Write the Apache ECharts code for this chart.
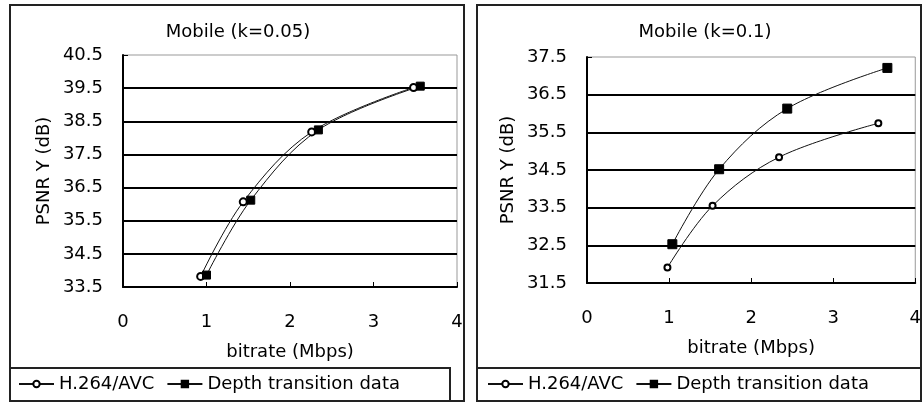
<!DOCTYPE html>
<html>
<head>
<meta charset="utf-8">
<script src="https://cdn.jsdelivr.net/npm/echarts@6/dist/echarts.min.js"></script>
<style>
  html, body { margin: 0; padding: 0; background: #fff; }
  #chart { width: 924px; height: 402px; }
</style>
</head>
<body>
<div id="chart"></div>
<script>
// PSNR vs bitrate for the Mobile sequence at two k settings
const seriesNames = ['H.264/AVC', 'Depth transition data'];
const panelTitles = ['Mobile (k=0.05)', 'Mobile (k=0.1)'];
const xAxisTitle = 'bitrate (Mbps)';
const yAxisTitle = 'PSNR Y (dB)';

// bitrate (Mbps), PSNR Y (dB)
const h264K005  = [[0.93, 33.82], [1.44, 36.07], [2.26, 38.18], [3.48, 39.52]];
const depthK005 = [[1.00, 33.86], [1.53, 36.12], [2.34, 38.24], [3.56, 39.56]];
const h264K01   = [[0.98, 31.91], [1.53, 33.55], [2.34, 34.84], [3.55, 35.74]];
const depthK01  = [[1.04, 32.53], [1.61, 34.52], [2.44, 36.13], [3.66, 37.21]];

// axis ranges: [min, max, step]
const xRange = [0, 4, 1];
const yRangeK005 = [33.5, 40.5, 1];
const yRangeK01 = [31.5, 37.5, 1];

const FONT = 'DejaVu Sans';
const INK = '#000';
const FS = 18;

function xAxisFor(gridIndex) {
  return {
    type: 'value', gridIndex,
    min: xRange[0], max: xRange[1], interval: xRange[2],
    name: xAxisTitle, nameLocation: 'middle', nameGap: 56,
    nameTextStyle: { fontFamily: FONT, fontSize: FS, color: INK },
    axisLine: { show: true, lineStyle: { color: INK, width: 2 } },
    axisTick: { show: true, inside: true, length: 5, lineStyle: { color: INK, width: 1 } },
    axisLabel: { margin: 26, fontFamily: FONT, fontSize: FS, color: INK },
    splitLine: { show: false }
  };
}

function yAxisFor(gridIndex, range) {
  return {
    type: 'value', gridIndex,
    min: range[0], max: range[1], interval: range[2],
    name: yAxisTitle, nameLocation: 'middle', nameGap: 70,
    nameTextStyle: { fontFamily: FONT, fontSize: FS, color: INK },
    axisLine: { show: true, lineStyle: { color: INK, width: 2 } },
    axisTick: { show: true, inside: true, length: 5, lineStyle: { color: INK, width: 1 } },
    axisLabel: { margin: 20, fontFamily: FONT, fontSize: FS, color: INK,
                 formatter: v => v.toFixed(1) },
    splitLine: { show: true, showMinLine: false, showMaxLine: false,
                 lineStyle: { color: INK, width: 2 } }
  };
}

function lineSeries(name, data, idx, symbol, size) {
  return {
    name, type: 'line', data,
    xAxisIndex: idx, yAxisIndex: idx,
    smooth: 0.35,
    symbol, symbolSize: size,
    showAllSymbol: true,
    lineStyle: { color: '#111', width: 1 },
    itemStyle: { color: INK, borderColor: INK, borderWidth: 1 },
    emphasis: { disabled: true },
    animation: false
  };
}

function legendAt(left) {
  return {
    data: seriesNames,
    left, top: 375,
    itemWidth: 35, itemHeight: 8, itemGap: 12,
    textStyle: { fontFamily: FONT, fontSize: FS, color: INK, padding: [0, 0, 0, 0] },
    padding: 0,
    inactiveColor: '#aaa'
  };
}

function frame(x1, y1, x2, y2) {
  return {
    type: 'rect', silent: true, z: 0,
    shape: { x: x1, y: y1, width: x2 - x1, height: y2 - y1 },
    style: { fill: 'none', stroke: '#222', lineWidth: 2 }
  };
}

function titleText(text, cx) {
  return {
    type: 'text', silent: true, x: cx, y: 32,
    style: { text, fontFamily: FONT, fontSize: FS, fill: INK,
             align: 'center', verticalAlign: 'middle' }
  };
}

const chart = echarts.init(document.getElementById('chart'), null, { renderer: 'canvas' });
chart.setOption({
  animation: false,
  backgroundColor: '#fff',
  grid: [
    { left: 123, top: 55, width: 334, height: 232, show: true,
      borderColor: '#999', borderWidth: 1, backgroundColor: 'transparent' },
    { left: 587, top: 57, width: 334, height: 226, show: true,
      borderColor: '#999', borderWidth: 1, backgroundColor: 'transparent' }
  ],
  xAxis: [xAxisFor(0), xAxisFor(1)],
  yAxis: [yAxisFor(0, yRangeK005), yAxisFor(1, yRangeK01)],
  legend: [legendAt(18), legendAt(487)],
  series: [
    lineSeries(seriesNames[0], h264K005, 0, 'emptyCircle', 7),
    lineSeries(seriesNames[1], depthK005, 0, 'rect', 8),
    lineSeries(seriesNames[0], h264K01, 1, 'emptyCircle', 6),
    lineSeries(seriesNames[1], depthK01, 1, 'rect', 9)
  ],
  graphic: [
    frame(10, 5, 464, 401),
    frame(10, 368, 450, 401),
    frame(477, 5, 921, 401),
    frame(477, 368, 921, 401),
    titleText(panelTitles[0], 238),
    titleText(panelTitles[1], 705)
  ]
});
</script>
</body>
</html>
